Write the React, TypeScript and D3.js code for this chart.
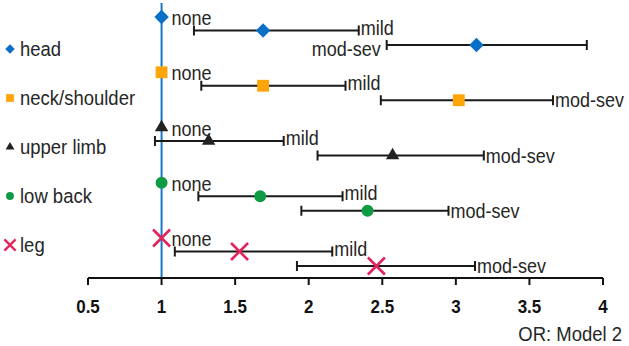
import React from "react";
import * as d3 from "d3";

const regions = ["head", "neck/shoulder", "upper limb", "low back", "leg"];
const levels = ["none", "mild", "mod-sev"];
const colors = ["#0a6fc7", "#ffa50a", "#222222", "#109a44", "#e2245c"];
const shapes = ["diamond", "square", "triangle", "circle", "cross"];

const orNone = [1, 1, 1, 1, 1];
const orMild = [1.69, 1.69, 1.32, 1.67, 1.53];
const mildLow = [1.22, 1.27, 0.955, 1.25, 1.09];
const mildHigh = [2.34, 2.25, 1.83, 2.23, 2.16];
const orModSev = [3.14, 3.02, 2.57, 2.4, 2.46];
const modSevLow = [2.53, 2.49, 2.06, 1.95, 1.92];
const modSevHigh = [3.89, 3.66, 3.19, 2.95, 3.13];
// where the mod-sev label goes for each region
const modSevSide = ["left", "right", "right", "right", "right"];

const xTicks = [0.5, 1, 1.5, 2, 2.5, 3, 3.5, 4];

const W = 629;
const H = 346;
const font = "'Liberation Sans', Arial, sans-serif";

const x = d3.scaleLinear().domain([0.5, 4]).range([88, 603]);
const rowY = d3.scalePoint().domain(regions).range([17, 238]);
const levelY = d3.scalePoint().domain(levels).range([0, 28]);
const legendY = d3.scalePoint().domain(regions).range([49, 245]);
const axisY = 278;

// text is a bit taller than plain Arial in the original, so stretch it
function T({ x, y, children, size = 18, anchor = "start", bold = false, fill = "#262626" }) {
  return (
    <g transform={`translate(${x},${y}) scale(1,1.13)`}>
      <text
        fontSize={size}
        textAnchor={anchor}
        fontWeight={bold ? "bold" : "normal"}
        fill={fill}
      >
        {children}
      </text>
    </g>
  );
}

function Marker({ shape, color, cx, cy, big }) {
  const k = big ? 1 : 0.66;
  if (shape === "cross") {
    const r = 8.5 * k;
    return (
      <path
        d={`M${cx - r},${cy - r}L${cx + r},${cy + r}M${cx - r},${cy + r}L${cx + r},${cy - r}`}
        stroke={color}
        strokeWidth={big ? 2.6 : 2.3}
        fill="none"
      />
    );
  }
  let type = d3.symbolCircle;
  let size = 113;
  let rot = 0;
  if (shape === "diamond") {
    type = d3.symbolSquare;
    size = 104;
    rot = 45;
  } else if (shape === "square") {
    type = d3.symbolSquare;
    size = 140;
  } else if (shape === "triangle") {
    type = d3.symbolTriangle;
    size = 78;
  }
  const p = d3.symbol().type(type).size(size * k * k)();
  return (
    <path
      d={p}
      fill={color}
      transform={`translate(${cx},${cy}) rotate(${rot})`}
    />
  );
}

function ErrBar({ lo, hi, y }) {
  const c = 5;
  return (
    <g stroke="#1a1a1a" strokeWidth={2} fill="none">
      <line x1={x(lo)} x2={x(hi)} y1={y} y2={y} />
      <line x1={x(lo)} x2={x(lo)} y1={y - c} y2={y + c} />
      <line x1={x(hi)} x2={x(hi)} y1={y - c} y2={y + c} />
    </g>
  );
}

export default function App() {
  return (
    <svg
      width={W}
      height={H}
      style={{ position: "absolute", left: 0, top: 0, background: "#fff" }}
      fontFamily={font}
    >
      {/* legend */}
      {regions.map((r, i) => (
        <g key={r}>
          <Marker shape={shapes[i]} color={colors[i]} cx={10} cy={legendY(r)} big={false} />
          <T x={20} y={legendY(r) + 7} size={18.5}>
            {r}
          </T>
        </g>
      ))}

      {/* reference line at OR = 1 */}
      <line x1={x(1)} x2={x(1)} y1={3} y2={axisY} stroke="#1677c9" strokeWidth={2} />

      {regions.map((r, i) => {
        const y0 = rowY(r) + levelY("none");
        const y1 = rowY(r) + levelY("mild") - 0.5;
        const y2 = rowY(r) + levelY("mod-sev");
        return (
          <g key={r}>
            <ErrBar lo={mildLow[i]} hi={mildHigh[i]} y={y1} />
            <ErrBar lo={modSevLow[i]} hi={modSevHigh[i]} y={y2} />
            <Marker shape={shapes[i]} color={colors[i]} cx={x(orNone[i])} cy={y0} big />
            <Marker shape={shapes[i]} color={colors[i]} cx={x(orMild[i])} cy={y1} big />
            <Marker shape={shapes[i]} color={colors[i]} cx={x(orModSev[i])} cy={y2} big />
            <T x={x(orNone[i]) + 10} y={y0 + 8}>
              none
            </T>
            <T x={x(mildHigh[i]) + 2} y={y1 + 4}>
              mild
            </T>
            {modSevSide[i] === "left" ? (
              <T x={x(modSevLow[i]) - 6} y={y2 + 11} anchor="end">
                mod-sev
              </T>
            ) : (
              <T x={x(modSevHigh[i]) + 2} y={y2 + 7}>
                mod-sev
              </T>
            )}
          </g>
        );
      })}

      {/* x axis */}
      <line x1={x(0.5)} x2={x(4)} y1={axisY} y2={axisY} stroke="#111" strokeWidth={2} />
      {xTicks.map((t) => (
        <g key={t}>
          <line x1={x(t)} x2={x(t)} y1={axisY} y2={axisY + 7} stroke="#111" strokeWidth={2} />
          <T x={x(t)} y={313} anchor="middle" size={17} bold fill="#111">
            {t}
          </T>
        </g>
      ))}
      <T x={622} y={341} anchor="end" size={18.5}>
        OR: Model 2
      </T>
    </svg>
  );
}
